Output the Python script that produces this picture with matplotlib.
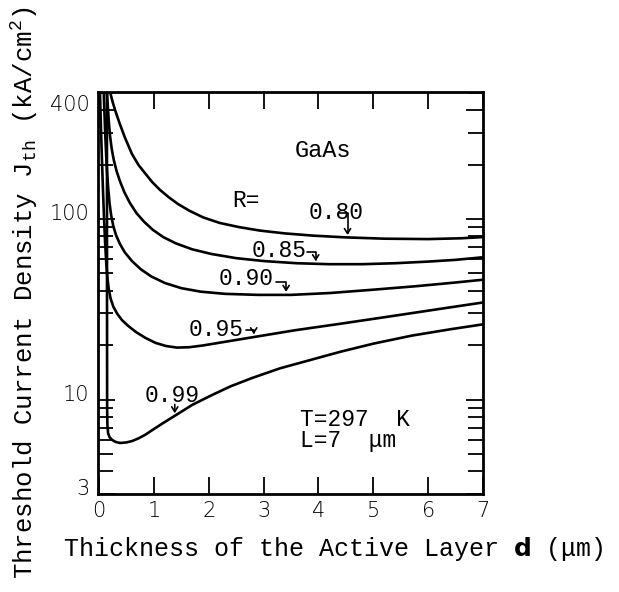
import matplotlib
matplotlib.use('Agg')
import matplotlib.pyplot as plt
import matplotlib.transforms as mtransforms
from matplotlib.ticker import FixedLocator, NullFormatter, FixedFormatter

plt.rcParams['mathtext.fontset'] = 'custom'
plt.rcParams['mathtext.rm'] = 'Liberation Mono'
plt.rcParams['mathtext.it'] = 'Liberation Mono'
plt.rcParams['mathtext.bf'] = 'DejaVu Sans:bold'

MONO = 'Liberation Mono'

# ---- data ----
R_labels = ['0.80', '0.85', '0.90', '0.95', '0.99']

d_080 = [0.17, 0.20, 0.25, 0.30, 0.38, 0.47, 0.60, 0.72, 0.84, 0.97, 1.11, 1.27, 1.44, 1.65,
         1.90, 2.20, 2.55, 2.93, 3.39, 3.90, 4.50, 5.20, 6.00, 6.60, 7.00]
J_080 = [558, 505, 442, 394, 335, 283, 229, 199, 179, 160, 145, 132, 121, 111,
         102, 95.1, 90.2, 86.3, 83.2, 80.9, 79.1, 77.8, 77.4, 78.2, 79.4]

d_085 = [0.125, 0.14, 0.16, 0.18, 0.20, 0.23, 0.27, 0.32, 0.38, 0.46, 0.56, 0.68, 0.82, 0.98,
         1.17, 1.40, 1.70, 2.05, 2.50, 3.00, 3.60, 4.20, 4.80, 5.40, 6.00, 6.50, 7.00]
J_085 = [603, 525, 417, 339, 288, 245, 211, 184, 162, 141, 123, 108, 96.6, 87.1,
         79.4, 73.3, 67.9, 64.0, 60.7, 58.5, 56.9, 56.2, 56.2, 56.9, 58.1, 59.4, 61.4]

d_090 = [0.07, 0.085, 0.10, 0.115, 0.13, 0.145, 0.165, 0.19, 0.22, 0.26, 0.31, 0.38, 0.47, 0.60,
         0.76, 0.95, 1.20, 1.50, 1.85, 2.30, 2.90, 3.50, 4.20, 5.00, 5.80, 6.50, 7.00]
J_090 = [603, 501, 372, 282, 224, 184, 150, 123, 105, 91.2, 81.3, 72.8, 65.3, 58.5,
         52.7, 48.1, 44.2, 41.4, 39.6, 38.5, 38.0, 38.0, 38.9, 40.6, 42.5, 44.5, 46.1]

d_095 = [0.008, 0.02, 0.035, 0.05, 0.07, 0.09, 0.11, 0.13, 0.15, 0.175, 0.21, 0.26, 0.33, 0.42,
         0.53, 0.67, 0.84, 1.03, 1.22, 1.42, 1.65, 1.90, 2.30, 2.90, 3.57, 4.40, 5.21, 6.10, 7.00]
J_095 = [603, 457, 316, 224, 148, 102, 74.1, 57.5, 47.9, 41.2, 36.3, 32.7, 29.9, 27.5,
         25.6, 23.7, 22.0, 20.6, 19.8, 19.4, 19.5, 19.95, 20.9, 22.4, 24.2, 26.3, 28.6, 31.4, 34.5]

d_099 = [0.143, 0.145, 0.147, 0.152, 0.165, 0.19, 0.237, 0.30, 0.38, 0.50, 0.60, 0.72, 0.84, 1.0,
         1.2, 1.4, 1.7, 2.06, 2.4, 2.8, 3.3, 3.8, 4.4, 5.0, 5.7, 6.4, 7.0]
J_099 = [560, 30, 9.0, 7.2, 6.5, 6.2, 5.98, 5.83, 5.75, 5.79, 5.89, 6.10, 6.38, 6.87,
         7.52, 8.20, 9.35, 10.6, 11.85, 13.2, 14.9, 16.4, 18.4, 20.4, 22.6, 24.5, 26.1]

curves = [(d_080, J_080), (d_085, J_085), (d_090, J_090), (d_095, J_095), (d_099, J_099)]

x_ticks = [0, 1, 2, 3, 4, 5, 6, 7]
y_major = [3, 10, 100, 400]
y_minor = [4, 5, 6, 7, 8, 9, 20, 30, 40, 50, 60, 70, 80, 90, 200, 300, 500]

# label positions (text pos, hook start, arrow tip)
label_text_pos = [(4.32, 108), (3.28, 67.3), (2.68, 47.1), (2.13, 24.3), (1.33, 10.6)]
hook_start = [(4.38, 108), (3.80, 65.7), (3.22, 44.8), (2.68, 24.3), (1.38, 9.4)]
hook_tip = [(4.53, 81.5), (3.95, 58.4), (3.41, 39.5), (2.82, 23.0), (1.38, 8.4)]

# ---- figure ----
fig = plt.figure(figsize=(6.19, 5.92), dpi=100)
ax = fig.add_axes([97.7 / 619, 98 / 592, 385.3 / 619, 402 / 592])

for d, J in curves:
    ax.plot(d, J, color='black', lw=1.9, solid_joinstyle='round', solid_capstyle='round')

ax.set_yscale('log')
ax.set_xlim(-0.025, 7.0)
ax.set_ylim(3, 505)

ax.xaxis.set_major_locator(FixedLocator(x_ticks))
ax.yaxis.set_major_locator(FixedLocator(y_major))
ax.yaxis.set_major_formatter(FixedFormatter([str(v) for v in y_major]))
ax.yaxis.set_minor_locator(FixedLocator(y_minor))
ax.yaxis.set_minor_formatter(NullFormatter())

ax.tick_params(which='both', direction='in', top=True, right=True, width=1.3, colors='black')
ax.tick_params(axis='x', which='major', length=12, pad=5, labelsize=15)
ax.tick_params(axis='y', which='major', length=12, pad=6, labelsize=15)
ax.tick_params(axis='y', which='minor', length=11)

for lbl in ax.get_xticklabels() + ax.get_yticklabels():
    lbl.set_fontfamily('DejaVu Sans')
    lbl.set_fontweight('light')
off = mtransforms.ScaledTranslation(0, 5 / 72, fig.dpi_scale_trans)
for lbl in ax.get_yticklabels():
    lbl.set_transform(lbl.get_transform() + off)

for s in ax.spines.values():
    s.set_linewidth(2.0)

for (tx, ty), lab in zip(label_text_pos, R_labels):
    ax.text(tx, ty, lab, fontsize=16.5, family=MONO, ha='center', va='center')
for (sx, sy), (px, py) in zip(hook_start, hook_tip):
    if abs(sx - px) < 1e-6:
        cs = 'arc3'
    else:
        cs = 'angle,angleA=0,angleB=90,rad=0'
    ax.annotate('', xy=(px, py), xytext=(sx, sy),
                arrowprops=dict(arrowstyle='->,head_length=0.35,head_width=0.22',
                                connectionstyle=cs, lw=1.2, color='black',
                                shrinkA=0, shrinkB=0))

ax.text(2.68, 125.8, 'R=', fontsize=16.5, family=MONO, ha='center', va='center')
ax.text(4.08, 241, 'GaAs', fontsize=17, family=MONO, ha='center', va='center')
ax.text(3.66, 7.71, 'T=297  K', fontsize=16.5, family=MONO, ha='left', va='center')
ax.text(3.66, 5.90, 'L=7  \u03bcm', fontsize=16.5, family=MONO, ha='left', va='center')

ax.set_xlabel('Thickness of the Active Layer $\\mathbf{d}$ (\u03bcm)', fontsize=18, family=MONO)
ax.xaxis.set_label_coords(0.612, -0.102)
ax.set_ylabel('Threshold Current Density J$_{\\mathrm{th}}$ (kA/cm$^{\\mathrm{2}}$)',
              fontsize=18.5, family=MONO)
ax.yaxis.set_label_coords(-0.15, 0.5)

fig.savefig('out.png', dpi=100, facecolor='white')
